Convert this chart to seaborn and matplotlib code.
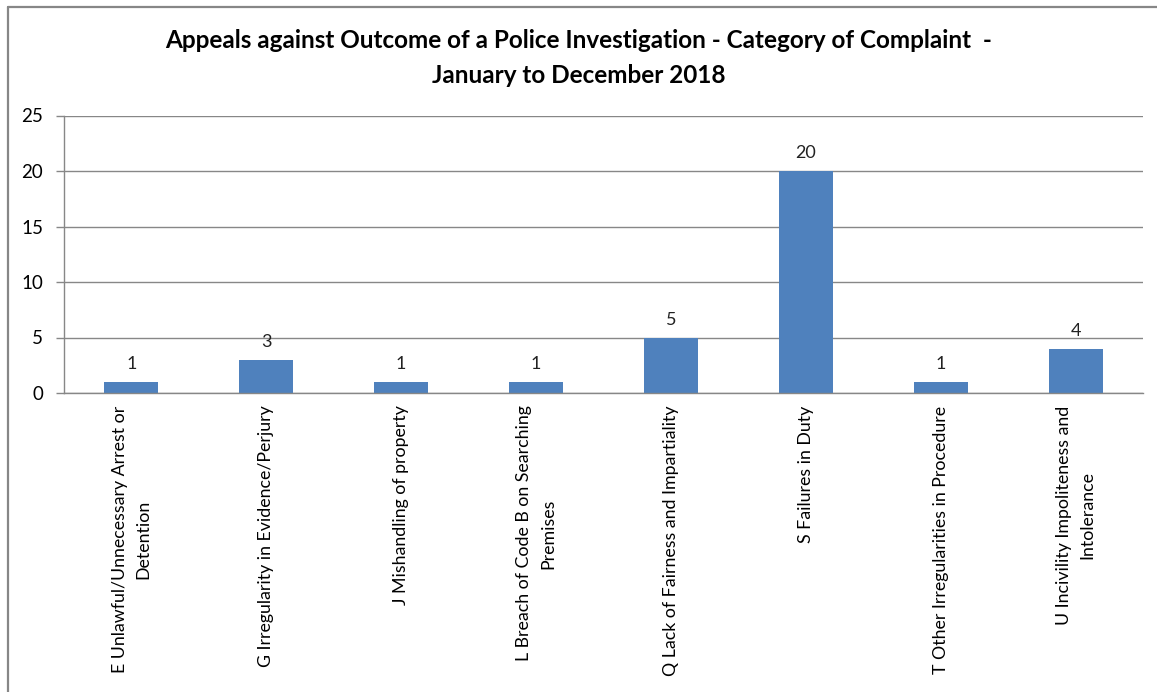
import matplotlib
matplotlib.use("Agg")
import matplotlib.pyplot as plt
from matplotlib.lines import Line2D
import seaborn as sns
import pandas as pd

categories = [
    "E Unlawful/Unnecessary Arrest or\nDetention",
    "G Irregularity in Evidence/Perjury",
    "J Mishandling of property",
    "L Breach of Code B on Searching\nPremises",
    "Q Lack of Fairness and Impartiality",
    "S Failures in Duty",
    "T Other Irregularities in Procedure",
    "U Incivility Impoliteness and\nIntolerance",
]
counts = [1, 3, 1, 1, 5, 20, 1, 4]
y_ticks = [0, 5, 10, 15, 20, 25]
title = ("Appeals against Outcome of a Police Investigation - Category of Complaint  -\n"
         "January to December 2018")

sns.set_theme(style="white")
plt.rcParams["font.family"] = ["Lato", "DejaVu Sans"]

W, H = 1157, 692
fig = plt.figure(figsize=(W / 100, H / 100), dpi=100)
fig.patch.set_facecolor("white")
ax = fig.add_axes([64 / W, 1 - 393 / H, (1143 - 64) / W, (393 - 115.5) / H])

df = pd.DataFrame({"category": categories, "count": counts})
sns.barplot(data=df, x="category", y="count", color="#4F81BD", saturation=1,
            width=0.4, ax=ax, edgecolor="none")

ax.set_ylim(0, 25)
ax.set_xlim(-0.5, len(categories) - 0.5)
ax.set_yticks(y_ticks)
ax.yaxis.grid(True, color="#878787", linewidth=1.0)
ax.set_axisbelow(True)
ax.set_xlabel("")
ax.set_ylabel("")

for side in ["top", "right"]:
    ax.spines[side].set_visible(False)
for side in ["left", "bottom"]:
    ax.spines[side].set_color("#878787")
    ax.spines[side].set_linewidth(1.0)

# category ticks sit on the boundaries between bars
ax.set_xticks(range(len(categories)))
ax.set_xticklabels(categories, rotation=90, ha="center", va="top",
                   multialignment="center", fontsize=12.8, color="black",
                   linespacing=1.6)
ax.tick_params(axis="x", length=0, pad=9)
boundaries = [i - 0.5 for i in range(len(categories) + 1)]
ax.set_xticks(boundaries, minor=True)
ax.tick_params(axis="x", which="minor", length=5, color="#878787", width=1)
ax.tick_params(axis="y", length=6, color="#878787", width=1, pad=9,
               labelsize=13.5, labelcolor="black", left=True)

for container in ax.containers:
    ax.bar_label(container, labels=[str(v) for v in counts], padding=7,
                 fontsize=13, color="#222222")

fig.text(0.5, 1 - 58 / H, title, ha="center", va="center", fontsize=17.5,
         fontweight="bold", linespacing=1.6, color="black")

# outer chart frame (left and top edges)
fig.add_artist(Line2D([8 / W, 8 / W], [0, 1 - 7 / H], transform=fig.transFigure,
                      color="#878787", linewidth=1.6))
fig.add_artist(Line2D([8 / W, 1], [1 - 7 / H, 1 - 7 / H], transform=fig.transFigure,
                      color="#878787", linewidth=1.6))

fig.savefig("out.png", dpi=100)
